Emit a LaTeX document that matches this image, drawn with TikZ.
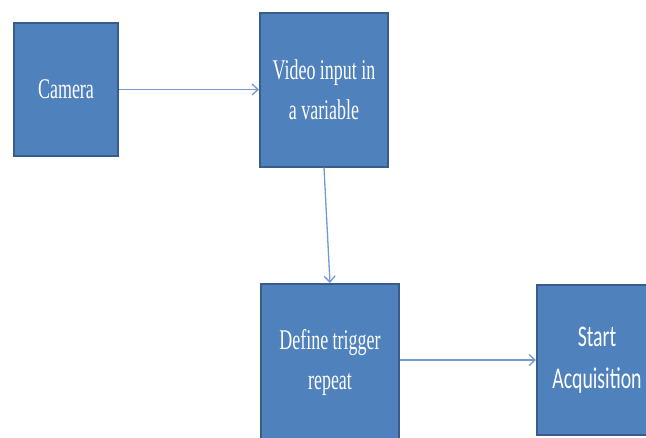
\documentclass[tikz,border=0pt]{standalone}
\usepackage{fontspec}
\setmainfont{Liberation Serif}
\newfontfamily\boxserif[FakeStretch=0.63]{Liberation Serif}
\newfontfamily\boxsans[FakeStretch=0.66]{Carlito}
\usetikzlibrary{arrows.meta}
\definecolor{boxfill}{HTML}{4F81BD}
\definecolor{boxedge}{HTML}{385D8A}
\definecolor{linkcol}{HTML}{7399CF}
\tikzset{
  stepbox/.style={rectangle, fill=boxfill, draw=boxedge, line width=2pt,
    text=white, align=center, inner sep=0pt},
  serifbox/.style={stepbox, font=\boxserif\fontsize{28.5}{40}\selectfont},
  sansbox/.style={stepbox, font=\boxsans\fontsize{30}{42}\selectfont},
  link/.style={draw=linkcol, line width=1.3pt, -{Straight Barb[length=6pt,width=11pt]}}
}
\begin{document}
\begin{tikzpicture}[x=1pt,y=1pt]
  \useasboundingbox (0,0) rectangle (646,-437);
  \clip (0,0) rectangle (646,-437);
  \node[serifbox, minimum width=104pt, minimum height=133pt] (cam) at (66,-89.5) {Camera};
  \node[serifbox, minimum width=128pt, minimum height=154pt] (vid) at (324,-89.5) {Video input in\\a variable};
  \node[serifbox, minimum width=138pt, minimum height=156pt] (trig) at (330,-362) {Define trigger\\repeat};
  \node[sansbox, minimum width=120pt, minimum height=150pt] (acq) at (597,-360) {Start\\Acquisition};
  \draw[link] (cam.east) -- (vid.west);
  \draw[link] (vid.south) -- (trig.north);
  \draw[link] (trig.east |- acq.west) -- (acq.west);
\end{tikzpicture}
\end{document}
